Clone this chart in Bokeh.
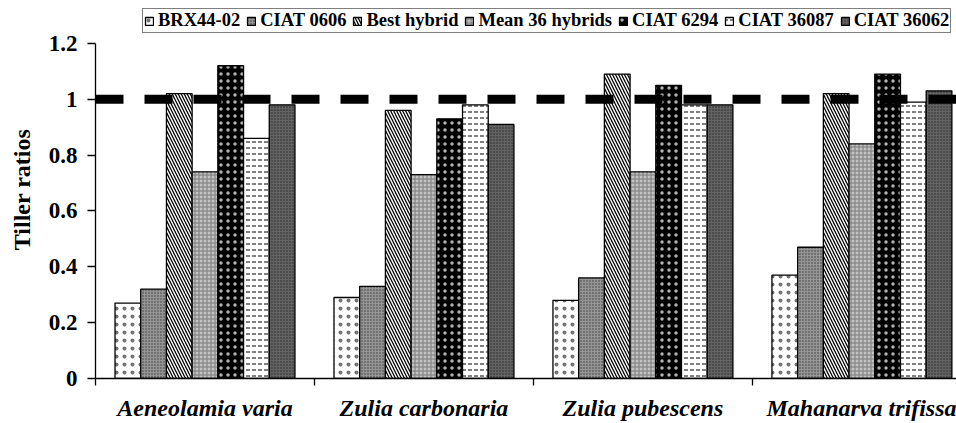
import numpy as np
from bokeh.plotting import figure
from bokeh.models import (ColumnDataSource, Range1d, FixedTicker,
                          CustomJSTickFormatter, Span, Legend, LegendItem)
from bokeh.embed import file_html
from bokeh.resources import INLINE

# Tiller ratios per spittlebug species and Brachiaria genotype
species = ["Aeneolamia varia", "Zulia carbonaria", "Zulia pubescens", "Mahanarva trifissa"]
series_names = ["BRX44-02", "CIAT 0606", "Best hybrid", "Mean 36 hybrids",
                "CIAT 6294", "CIAT 36087", "CIAT 36062"]
brx44_02 = [0.27, 0.29, 0.28, 0.37]
ciat_0606 = [0.32, 0.33, 0.36, 0.47]
best_hybrid = [1.02, 0.96, 1.09, 1.02]
mean_36_hybrids = [0.74, 0.73, 0.74, 0.84]
ciat_6294 = [1.12, 0.93, 1.05, 1.09]
ciat_36087 = [0.86, 0.98, 0.98, 0.99]
ciat_36062 = [0.98, 0.91, 0.98, 1.03]
y_ticks = [0, 0.2, 0.4, 0.6, 0.8, 1.0, 1.2]
reference_ratio = 1.0

series_values = [brx44_02, ciat_0606, best_hybrid, mean_36_hybrids,
                 ciat_6294, ciat_36087, ciat_36062]

# fill / hatch styling for each genotype (black & white print look)
styles = [
    dict(fill_color="white", hatch_pattern="dot", hatch_color="black", hatch_scale=8, hatch_weight=1, hatch_alpha=0.55),
    dict(fill_color="#959595", hatch_pattern="dot", hatch_color="#3a3a3a", hatch_scale=3, hatch_weight=1),
    dict(fill_color="white", hatch_pattern="left_diagonal_line", hatch_color="black", hatch_scale=6, hatch_weight=1.3),
    dict(fill_color="#c2c2c2", hatch_pattern="cross", hatch_color="#7a7a7a", hatch_scale=4, hatch_weight=1),
    dict(fill_color="black", hatch_pattern="dot", hatch_color="white", hatch_scale=7, hatch_weight=1, hatch_alpha=0.7),
    dict(fill_color="white", hatch_pattern="horizontal_dash", hatch_color="black", hatch_scale=6, hatch_weight=1),
    dict(fill_color="#626262", hatch_pattern="dot", hatch_color="#262626", hatch_scale=3, hatch_weight=1),
]

FONT = "Liberation Serif"
n_series = len(series_names)
bar_w = 0.1174
centers = np.arange(len(species)) + 0.5
y_max = y_ticks[-1]

# the plotting area runs up to the top edge so the legend strip fits inside it;
# the axis itself stops at the last tick
p = figure(width=956, height=423,
           x_range=Range1d(0, 3.932), y_range=Range1d(0, 1.3536),
           output_backend="svg", toolbar_location=None,
           min_border_left=95, min_border_right=0,
           min_border_top=0, min_border_bottom=44)
p.outline_line_color = None
p.xgrid.visible = False
p.ygrid.visible = False
p.background_fill_color = "white"
p.border_fill_color = "white"

items = []
for j, (name, vals, st) in enumerate(zip(series_names, series_values, styles)):
    src = ColumnDataSource(dict(x=centers + (j - (n_series - 1) / 2) * bar_w, top=vals))
    r = p.vbar(x="x", top="top", width=bar_w, bottom=0, source=src,
               line_color="black", line_width=1.3, **st)
    items.append(LegendItem(label=name, renderers=[r]))

# reference line at ratio = 1
p.add_layout(Span(location=reference_ratio, dimension="width", line_color="black",
                  line_width=9, line_dash="28 21"))

# y axis
ya = p.yaxis[0]
ya.bounds = (0, y_max)
ya.ticker = FixedTicker(ticks=y_ticks)
ya.formatter = CustomJSTickFormatter(code="return String(Number(tick.toFixed(1)));")
ya.major_label_text_font = FONT
ya.major_label_text_font_style = "bold"
ya.major_label_text_font_size = "23px"
ya.major_label_text_color = "black"
ya.major_tick_in = 0
ya.major_tick_out = 8
ya.minor_tick_line_color = None
ya.major_label_standoff = 10
ya.axis_line_color = "black"
ya.axis_line_width = 1.3
ya.major_tick_line_width = 1.3
ya.axis_label = "Tiller ratios"
ya.axis_label_text_font = FONT
ya.axis_label_text_font_style = "bold"
ya.axis_label_text_font_size = "24px"
ya.axis_label_text_color = "black"
ya.axis_label_standoff = 11

# x axis: boundary ticks as minor ticks, species names at group centres
xa = p.xaxis[0]
xa.ticker = FixedTicker(ticks=list(centers), minor_ticks=list(range(len(species))))
xa.formatter = CustomJSTickFormatter(args=dict(labels=species),
                                     code="return labels[Math.floor(tick)];")
xa.major_tick_in = 0
xa.major_tick_out = 0
xa.minor_tick_in = 0
xa.minor_tick_out = 7
xa.minor_tick_line_color = "black"
xa.minor_tick_line_width = 1.3
xa.axis_line_color = "black"
xa.axis_line_width = 1.3
xa.major_label_text_font = FONT
xa.major_label_text_font_style = "bold italic"
xa.major_label_text_font_size = "24px"
xa.major_label_text_color = "black"
xa.major_label_standoff = 9

# legend strip across the top
lg = Legend(items=items, orientation="horizontal", location=(47, 345))
lg.label_text_font = FONT
lg.label_text_font_style = "bold"
lg.label_text_font_size = "18.5px"
lg.label_text_color = "black"
lg.label_standoff = 4
lg.glyph_width = 10
lg.glyph_height = 10
lg.spacing = 6
lg.padding = 1
lg.margin = 0
lg.border_line_color = "black"
lg.border_line_width = 1.5
lg.background_fill_alpha = 1
p.add_layout(lg, "center")

open("out.html", "w").write(file_html(p, INLINE))
